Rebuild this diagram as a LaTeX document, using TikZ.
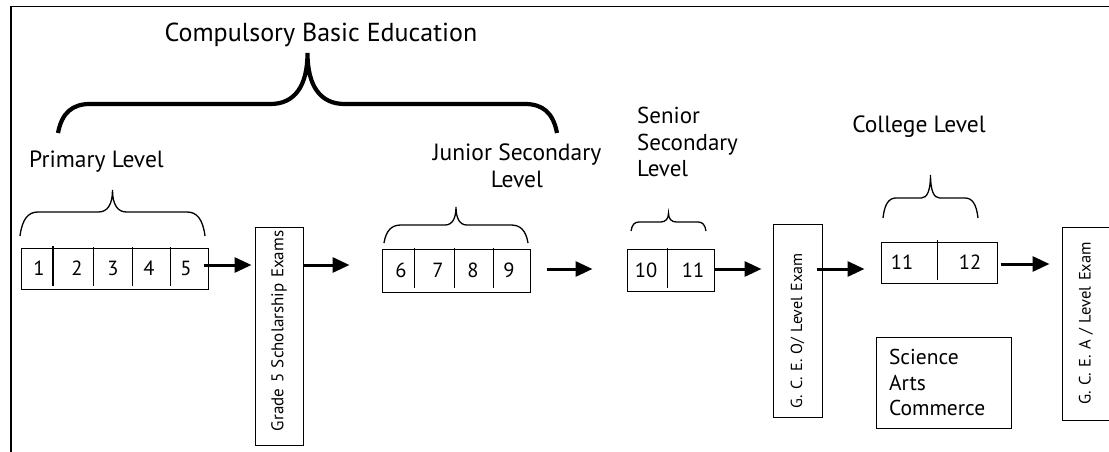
\documentclass[tikz,border=0pt]{standalone}
\usepackage{fontspec}
\setmainfont{PT Sans}
\usetikzlibrary{arrows.meta}
\newcommand{\drawbrace}[8]{%
  % #1 style, #2 xl, #3 xr, #4 yend, #5 yh, #6 ytip, #7 end radius, #8 cusp radius
  \draw[#1] (#2,#4)
    .. controls ({#2+0.12*#7},{#5+0.3*(#4-#5)}) and ({#2+0.45*#7},#5) .. ({#2+#7},#5)
    -- ({(#2+#3)/2-#8},#5)
    .. controls ({(#2+#3)/2-0.35*#8},#5) and ({(#2+#3)/2},{#5-0.35*(#5-#6)}) .. ({(#2+#3)/2},#6)
    .. controls ({(#2+#3)/2},{#5-0.35*(#5-#6)}) and ({(#2+#3)/2+0.35*#8},#5) .. ({(#2+#3)/2+#8},#5)
    -- ({#3-#7},#5)
    .. controls ({#3-0.45*#7},#5) and ({#3-0.12*#7},{#5+0.3*(#4-#5)}) .. (#3,#4);}
\begin{document}
\begin{tikzpicture}[x=1pt,y=-1pt,
  box/.style={draw, line width=1pt, inner sep=0pt},
  dig/.style={inner sep=0pt, font=\fontsize{20.5}{22}\selectfont},
  lbl/.style={inner sep=0pt, font=\fontsize{23.5}{27}\selectfont},
  rotbox/.style={draw, line width=1pt, rotate=90, inner xsep=0pt, inner ysep=0pt,
    align=left, font=\fontsize{16}{19}\selectfont},
  arr/.style={line width=3pt, -{Triangle[length=17pt,width=15pt]}},
  brc/.style={line width=1.3pt},
  divl/.style={line width=1pt},
]
\useasboundingbox (0,0) rectangle (1109,452);
\clip (0,0) rectangle (1109,452);

% frame
\draw[line width=1.3pt] (11,460) -- (11,6.5) -- (1120,6.5);

% titles and labels
\node[lbl, font=\fontsize{26}{27}\selectfont, anchor=base] (title) at (321,42) {Compulsory Basic Education};
\node[lbl, anchor=base west] (prim) at (29,167) {Primary Level};
\node[lbl, anchor=base] (jun) at (517,160) {\begin{tabular}[t]{@{}c@{}}Junior Secondary\\Level\end{tabular}};
\node[lbl, font=\fontsize{23}{26.5}\selectfont, anchor=base west] (sen) at (637,124) {\begin{tabular}[t]{@{}l@{}}Senior\\Secondary\\Level\end{tabular}};
\node[lbl, anchor=base] (col) at (919,132) {College Level};

% braces
\drawbrace{line width=4.2pt}{58}{557}{133}{104}{53}{32}{37}
\drawbrace{brc}{20}{205}{236}{212}{190}{18}{14}
\drawbrace{brc}{384}{528}{243}{225}{207}{17}{11}
\drawbrace{brc}{631}{706}{231}{222}{213}{8}{8}
\drawbrace{brc}{883}{978}{218}{198}{175}{13}{9}

% grade boxes
\node[box, minimum width=187, minimum height=41] (b15) at (114.5,268.5) {};
\draw[line width=1.8pt] (53,246) -- (53,286);
\draw[divl] (93,247) -- (93,286);
\draw[divl] (132,247) -- (132,286);
\draw[divl] (170,247) -- (170,286);
\node[dig] (n1) at (39,268.5) {1};
\node[dig] (n2) at (77,268.5) {2};
\node[dig] (n3) at (113,268.5) {3};
\node[dig] (n4) at (149,268.5) {4};
\node[dig] (n5) at (186,268.5) {5};

\node[box, minimum width=148, minimum height=43] (b69) at (456,270.5) {};
\draw[divl] (414,248) -- (414,288);
\draw[divl] (454,248) -- (454,288);
\draw[divl] (493,248) -- (493,288);
\node[dig] (n6) at (401,270.5) {6};
\node[dig] (n7) at (438,270.5) {7};
\node[dig] (n8) at (473,270.5) {8};
\node[dig] (n9) at (509,270.5) {9};

\node[box, minimum width=87, minimum height=42] (b1011) at (670.5,270) {};
\draw[divl] (667,248) -- (667,288);
\node[dig] (n10) at (646,270) {10};
\node[dig] (n11) at (693,270) {11};

\node[box, minimum width=116, minimum height=41] (b1112) at (939,262.5) {};
\draw[divl] (937,240) -- (937,280);
\node[dig] (n11b) at (902,262.5) {11};
\node[dig] (n12) at (970,262.5) {12};

% exam boxes (rotated)
\node[rotbox, font=\fontsize{17}{19}\selectfont, text width=218, minimum height=48] (g5) at (279,336) {\hspace*{14pt}Grade 5 Scholarship Exams};
\node[rotbox, text width=193, minimum height=49] (gceo) at (797.5,320.5) {\hspace*{9pt}G. C. E. O/ Level Exam};
\node[rotbox, font=\fontsize{16.5}{19}\selectfont, text width=193, minimum height=48, align=center] (gcea) at (1086,323.5) {G. C. E. A / Level Exam};

% streams box
\node[box, minimum width=135, minimum height=91, text width=109, inner xsep=13pt, align=left,
  font=\fontsize{21.5}{25.5}\selectfont] (sci) at (943.5,382.5) {Science\\Arts\\Commerce};

% arrows
\draw[arr, shorten <=-5pt, shorten >=3pt] (b15.east |- 0,265) -- (g5.north |- 0,265);
\draw[arr, shorten >=32pt] (g5.south |- 0,265) -- (b69.west |- 0,265);
\draw[arr, shorten <=16pt, shorten >=34pt] (b69.east |- 0,269) -- (b1011.west |- 0,269);
\draw[arr, shorten >=11pt] (b1011.east |- 0,269) -- (gceo.north |- 0,269);
\draw[arr, shorten <=-6pt, shorten >=16pt] (gceo.south |- 0,269) -- (b1112.west |- 0,269);
\draw[arr, shorten <=3pt, shorten >=12pt] (b1112.east |- 0,264) -- (gcea.north |- 0,264);
\end{tikzpicture}
\end{document}
